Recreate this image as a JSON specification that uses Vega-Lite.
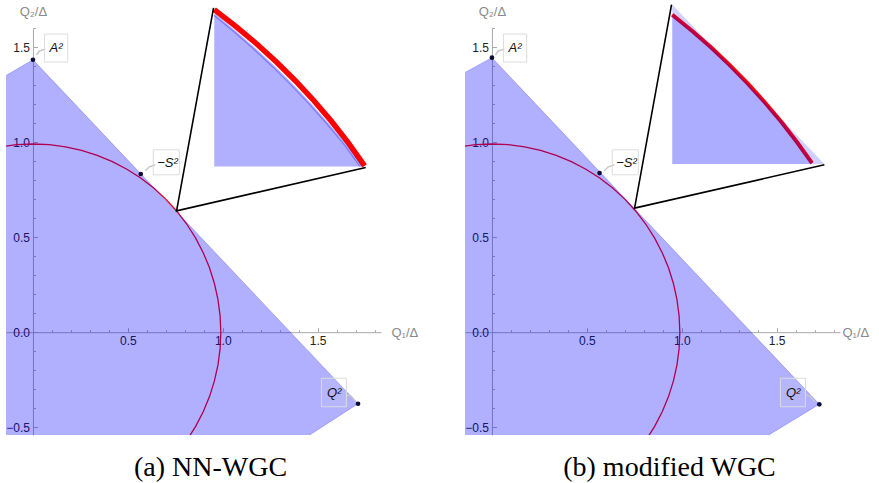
{
  "$schema": "https://vega.github.io/schema/vega-lite/v6.json",
  "background": "white",
  "padding": {"left": 5, "top": -2, "right": 0, "bottom": 0},
  "spacing": 46,
  "config": {
    "view": {"stroke": null},
    "axis": {
      "grid": false,
      "domainColor": "#a8a8a8",
      "tickColor": "#a8a8a8",
      "labelFont": "Liberation Sans",
      "labelFontSize": 12,
      "labelColor": "#222222",
      "labelOverlap": false,
      "labelFlush": false,
      "titleFont": "Liberation Sans",
      "titleFontSize": 13,
      "titleFontWeight": "normal",
      "titleColor": "#8a8a8a",
      "titleAngle": 0
    }
  },
  "datasets": {
    "circle": [
      {"i": 0, "x": -0.1719, "y": 0.975},
      {"i": 1, "x": -0.0863, "y": 0.9862},
      {"i": 2, "x": 0, "y": 0.99},
      {"i": 3, "x": 0.0863, "y": 0.9862},
      {"i": 4, "x": 0.1719, "y": 0.975},
      {"i": 5, "x": 0.2562, "y": 0.9563},
      {"i": 6, "x": 0.3386, "y": 0.9303},
      {"i": 7, "x": 0.4184, "y": 0.8972},
      {"i": 8, "x": 0.495, "y": 0.8574},
      {"i": 9, "x": 0.5678, "y": 0.811},
      {"i": 10, "x": 0.6364, "y": 0.7584},
      {"i": 11, "x": 0.7, "y": 0.7},
      {"i": 12, "x": 0.7584, "y": 0.6364},
      {"i": 13, "x": 0.811, "y": 0.5678},
      {"i": 14, "x": 0.8574, "y": 0.495},
      {"i": 15, "x": 0.8972, "y": 0.4184},
      {"i": 16, "x": 0.9303, "y": 0.3386},
      {"i": 17, "x": 0.9563, "y": 0.2562},
      {"i": 18, "x": 0.975, "y": 0.1719},
      {"i": 19, "x": 0.9862, "y": 0.0863},
      {"i": 20, "x": 0.99, "y": 0},
      {"i": 21, "x": 0.9862, "y": -0.0863},
      {"i": 22, "x": 0.975, "y": -0.1719},
      {"i": 23, "x": 0.9563, "y": -0.2562},
      {"i": 24, "x": 0.9303, "y": -0.3386},
      {"i": 25, "x": 0.8972, "y": -0.4184},
      {"i": 26, "x": 0.8574, "y": -0.495},
      {"i": 27, "x": 0.811, "y": -0.5678}
    ],
    "poly_a": [
      {"y": -0.7, "x": 1.211, "xl": -0.3},
      {"y": -0.376, "x": 1.713, "xl": -0.3},
      {"y": 1.2575, "x": 0.1662, "xl": -0.3},
      {"y": 1.433, "x": 0, "xl": 0}
    ],
    "poly_b": [
      {"y": -0.7, "x": 1.196, "xl": -0.3},
      {"y": -0.379, "x": 1.725, "xl": -0.3},
      {"y": 1.2804, "x": 0.1548, "xl": -0.3},
      {"y": 1.444, "x": 0, "xl": 0}
    ],
    "red_a": [
      {"i": 0, "x": 0.9553, "y": 1.6963},
      {"i": 1, "x": 1.0689, "y": 1.6087},
      {"i": 2, "x": 1.1782, "y": 1.5171},
      {"i": 3, "x": 1.2832, "y": 1.4213},
      {"i": 4, "x": 1.384, "y": 1.3214},
      {"i": 5, "x": 1.4806, "y": 1.2174},
      {"i": 6, "x": 1.5729, "y": 1.1092},
      {"i": 7, "x": 1.661, "y": 0.9969},
      {"i": 8, "x": 1.7474, "y": 0.8753}
    ],
    "blue_a": [
      {"i": 0, "x": 0.9553, "y": 1.67, "yb": 0.8716},
      {"i": 1, "x": 1.0625, "y": 1.5818, "yb": 0.8716},
      {"i": 2, "x": 1.1667, "y": 1.4906, "yb": 0.8716},
      {"i": 3, "x": 1.2677, "y": 1.3964, "yb": 0.8716},
      {"i": 4, "x": 1.3658, "y": 1.2992, "yb": 0.8716},
      {"i": 5, "x": 1.4608, "y": 1.199, "yb": 0.8716},
      {"i": 6, "x": 1.5527, "y": 1.0958, "yb": 0.8716},
      {"i": 7, "x": 1.6415, "y": 0.9897, "yb": 0.8716},
      {"i": 8, "x": 1.7274, "y": 0.8716, "yb": 0.8716}
    ],
    "red_b": [
      {"i": 0, "x": 0.95, "y": 1.67, "yb": 0.8842},
      {"i": 1, "x": 1.0553, "y": 1.5847, "yb": 0.8842},
      {"i": 2, "x": 1.1568, "y": 1.4958, "yb": 0.8842},
      {"i": 3, "x": 1.2542, "y": 1.4037, "yb": 0.8842},
      {"i": 4, "x": 1.3484, "y": 1.3079, "yb": 0.8842},
      {"i": 5, "x": 1.4384, "y": 1.2084, "yb": 0.8842},
      {"i": 6, "x": 1.5253, "y": 1.1058, "yb": 0.8842},
      {"i": 7, "x": 1.6079, "y": 0.9989, "yb": 0.8842},
      {"i": 8, "x": 1.6868, "y": 0.8895, "yb": 0.8842}
    ],
    "blue_b": [
      {"i": 0, "x": 0.95, "y": 1.7226, "yb": 0.8842},
      {"i": 1, "x": 1.7516, "y": 0.8842, "yb": 0.8842}
    ],
    "frame_a": [
      {"i": 0, "x": 0.9516, "y": 1.7053},
      {"i": 1, "x": 0.7568, "y": 0.6384},
      {"i": 2, "x": 1.7537, "y": 0.8663}
    ],
    "frame_b": [
      {"i": 0, "x": 0.9463, "y": 1.7226},
      {"i": 1, "x": 0.7516, "y": 0.6526},
      {"i": 2, "x": 1.7516, "y": 0.8805}
    ],
    "pts_a": [
      {"name": "A2", "x": 0, "y": 1.433},
      {"name": "-S2", "x": 0.568, "y": 0.832},
      {"name": "Q2", "x": 1.713, "y": -0.376}
    ],
    "pts_b": [
      {"name": "A2", "x": 0, "y": 1.444},
      {"name": "-S2", "x": 0.567, "y": 0.837},
      {"name": "Q2", "x": 1.725, "y": -0.379}
    ],
    "labels": [
      {"t": "A²", "x": 0.122, "y": 1.496},
      {"t": "−S²", "x": 0.709, "y": 0.889},
      {"t": "Q²", "x": 1.587, "y": -0.321}
    ],
    "boxes": [
      {"x": 0.0605, "xe": 0.183, "y": 1.568, "ye": 1.421},
      {"x": 0.634, "xe": 0.771, "y": 0.9595, "ye": 0.828},
      {"x": 1.52, "xe": 1.652, "y": -0.242, "ye": -0.392}
    ],
    "callouts": [
      {"g": 1, "i": 0, "x": 0.018, "y": 1.458},
      {"g": 1, "i": 1, "x": 0.034, "y": 1.479},
      {"g": 1, "i": 2, "x": 0.066, "y": 1.489},
      {"g": 2, "i": 0, "x": 0.592, "y": 0.849},
      {"g": 2, "i": 1, "x": 0.613, "y": 0.87},
      {"g": 2, "i": 2, "x": 0.645, "y": 0.881},
      {"g": 3, "i": 0, "x": 1.652, "y": -0.33},
      {"g": 3, "i": 1, "x": 1.676, "y": -0.335},
      {"g": 3, "i": 2, "x": 1.701, "y": -0.365}
    ]
  },
  "hconcat": [
    {
      "width": 375,
      "height": 407,
      "title": {"text": "(a) NN-WGC", "orient": "bottom", "anchor": "middle", "font": "Liberation Serif", "fontSize": 28, "fontWeight": "normal", "color": "#000000", "offset": 19, "dx": 17},
      "encoding": {
        "x": {"field": "x", "type": "quantitative",
          "scale": {"domain": [-0.142, 1.834], "nice": false, "zero": false},
          "axis": {"orient": "bottom", "offset": -102.8,
            "values": [-0.1, 0.1, 0.2, 0.3, 0.4, 0.5, 0.6, 0.7, 0.8, 0.9, 1.0, 1.1, 1.2, 1.3, 1.4, 1.5, 1.6, 1.7, 1.8],
            "tickSize": {"condition": {"test": "abs(datum.value*2 - round(datum.value*2)) < 1e-6", "value": -4.5}, "value": -2.5},
            "labelPadding": 8,
            "labelExpr": "abs(datum.value*2 - round(datum.value*2)) < 1e-6 && abs(datum.value) > 1e-6 ? format(datum.value, '.1f') : ''",
            "title": "Q₁/Δ", "titleX": 385, "titleY": 0, "titleAlign": "left", "titleBaseline": "middle"}},
        "y": {"field": "y", "type": "quantitative",
          "scale": {"domain": [-0.5405, 1.6], "nice": false, "zero": false},
          "axis": {"orient": "left", "offset": -26.95,
            "values": [-0.5, -0.4, -0.3, -0.2, -0.1, 0, 0.1, 0.2, 0.3, 0.4, 0.5, 0.6, 0.7, 0.8, 0.9, 1.0, 1.1, 1.2, 1.3, 1.4, 1.5, 1.6],
            "tickSize": {"condition": {"test": "abs(datum.value*2 - round(datum.value*2)) < 1e-6", "value": -4.5}, "value": -2.5},
            "labelPadding": 8,
            "labelExpr": "abs(datum.value*2 - round(datum.value*2)) < 1e-6 ? format(datum.value, '.1f') : ''",
            "title": "Q₂/Δ", "titleX": 0, "titleY": -17, "titleAlign": "center", "titleBaseline": "middle"}}
      },
      "layer": [
        {"data": {"name": "circle"}, "mark": {"type": "line", "color": "#ff0000", "strokeWidth": 1.3, "clip": true}, "encoding": {"order": {"field": "i"}}},
        {"data": {"name": "red_a"}, "mark": {"type": "line", "color": "#ff0000", "strokeWidth": 5.5}, "encoding": {"order": {"field": "i"}}},
        {"data": {"name": "poly_a"}, "mark": {"type": "area", "orient": "horizontal", "fill": "#0000ff", "fillOpacity": 0.31, "stroke": "#0000ff", "strokeOpacity": 0.22, "strokeWidth": 1, "clip": true}, "encoding": {"x2": {"field": "xl"}}},
        {"data": {"name": "blue_a"}, "mark": {"type": "area", "fill": "#0000ff", "fillOpacity": 0.31}, "encoding": {"y2": {"field": "yb"}}},
        {"data": {"name": "blue_a"}, "mark": {"type": "line", "color": "#0000ff", "opacity": 0.3, "strokeWidth": 2.5}, "encoding": {"order": {"field": "i"}}},
        {"data": {"name": "frame_a"}, "mark": {"type": "line", "color": "#000000", "strokeWidth": 1.6}, "encoding": {"order": {"field": "i"}}},
        {"data": {"name": "callouts"}, "mark": {"type": "line", "color": "#c8c8c8", "strokeWidth": 1.5}, "encoding": {"order": {"field": "i"}, "detail": {"field": "g"}}},
        {"data": {"name": "boxes"}, "mark": {"type": "rect", "fill": "#ffffff", "fillOpacity": 0.08, "stroke": "#dcdcdc", "strokeWidth": 1}, "encoding": {"x2": {"field": "xe"}, "y2": {"field": "ye"}}},
        {"data": {"name": "pts_a"}, "mark": {"type": "circle", "color": "#0b0b35", "opacity": 1, "size": 22}},
        {"data": {"name": "labels"}, "mark": {"type": "text", "font": "Liberation Sans", "fontStyle": "italic", "fontSize": 13, "color": "#111111", "align": "center", "baseline": "middle"}, "encoding": {"text": {"field": "t"}}}
      ]
    },
    {
      "width": 375,
      "height": 407,
      "title": {"text": "(b) modified WGC", "orient": "bottom", "anchor": "middle", "font": "Liberation Serif", "fontSize": 28, "fontWeight": "normal", "color": "#000000", "offset": 19, "dx": 17},
      "encoding": {
        "x": {"field": "x", "type": "quantitative",
          "scale": {"domain": [-0.142, 1.834], "nice": false, "zero": false},
          "axis": {"orient": "bottom", "offset": -102.8,
            "values": [-0.1, 0.1, 0.2, 0.3, 0.4, 0.5, 0.6, 0.7, 0.8, 0.9, 1.0, 1.1, 1.2, 1.3, 1.4, 1.5, 1.6, 1.7, 1.8],
            "tickSize": {"condition": {"test": "abs(datum.value*2 - round(datum.value*2)) < 1e-6", "value": -4.5}, "value": -2.5},
            "labelPadding": 8,
            "labelExpr": "abs(datum.value*2 - round(datum.value*2)) < 1e-6 && abs(datum.value) > 1e-6 ? format(datum.value, '.1f') : ''",
            "title": "Q₁/Δ", "titleX": 377, "titleY": 0, "titleAlign": "left", "titleBaseline": "middle"}},
        "y": {"field": "y", "type": "quantitative",
          "scale": {"domain": [-0.5405, 1.6], "nice": false, "zero": false},
          "axis": {"orient": "left", "offset": -26.95,
            "values": [-0.5, -0.4, -0.3, -0.2, -0.1, 0, 0.1, 0.2, 0.3, 0.4, 0.5, 0.6, 0.7, 0.8, 0.9, 1.0, 1.1, 1.2, 1.3, 1.4, 1.5, 1.6],
            "tickSize": {"condition": {"test": "abs(datum.value*2 - round(datum.value*2)) < 1e-6", "value": -4.5}, "value": -2.5},
            "labelPadding": 8,
            "labelExpr": "abs(datum.value*2 - round(datum.value*2)) < 1e-6 ? format(datum.value, '.1f') : ''",
            "title": "Q₂/Δ", "titleX": 0, "titleY": -17, "titleAlign": "center", "titleBaseline": "middle"}}
      },
      "layer": [
        {"data": {"name": "circle"}, "mark": {"type": "line", "color": "#ff0000", "strokeWidth": 1.3, "clip": true}, "encoding": {"order": {"field": "i"}}},
        {"data": {"name": "red_b"}, "mark": {"type": "line", "color": "#ff0000", "strokeWidth": 4}, "encoding": {"order": {"field": "i"}}},
        {"data": {"name": "poly_b"}, "mark": {"type": "area", "orient": "horizontal", "fill": "#0000ff", "fillOpacity": 0.31, "stroke": "#0000ff", "strokeOpacity": 0.22, "strokeWidth": 1, "clip": true}, "encoding": {"x2": {"field": "xl"}}},
        {"data": {"name": "blue_b"}, "mark": {"type": "area", "fill": "#0000ff", "fillOpacity": 0.18}, "encoding": {"y2": {"field": "yb"}}},
        {"data": {"name": "red_b"}, "mark": {"type": "area", "fill": "#0000ff", "fillOpacity": 0.17}, "encoding": {"y2": {"field": "yb"}}},
        {"data": {"name": "frame_b"}, "mark": {"type": "line", "color": "#000000", "strokeWidth": 1.6}, "encoding": {"order": {"field": "i"}}},
        {"data": {"name": "callouts"}, "mark": {"type": "line", "color": "#c8c8c8", "strokeWidth": 1.5}, "encoding": {"order": {"field": "i"}, "detail": {"field": "g"}}},
        {"data": {"name": "boxes"}, "mark": {"type": "rect", "fill": "#ffffff", "fillOpacity": 0.08, "stroke": "#dcdcdc", "strokeWidth": 1}, "encoding": {"x2": {"field": "xe"}, "y2": {"field": "ye"}}},
        {"data": {"name": "pts_b"}, "mark": {"type": "circle", "color": "#0b0b35", "opacity": 1, "size": 22}},
        {"data": {"name": "labels"}, "mark": {"type": "text", "font": "Liberation Sans", "fontStyle": "italic", "fontSize": 13, "color": "#111111", "align": "center", "baseline": "middle"}, "encoding": {"text": {"field": "t"}}}
      ]
    }
  ]
}
